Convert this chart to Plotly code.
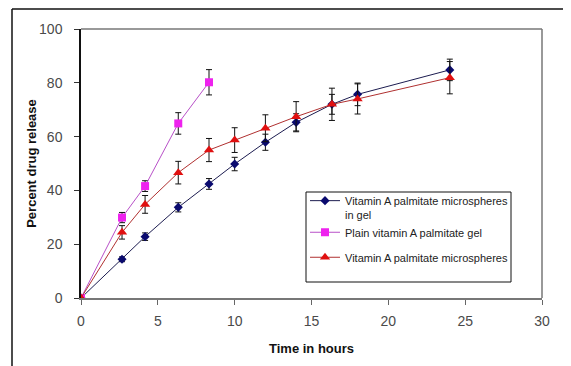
import plotly.graph_objects as go

# time points (hours)
t_gel = [0, 2.67, 4.17, 6.33, 8.33, 10, 12, 14, 16.33, 18, 24]
t_plain = [0, 2.67, 4.17, 6.33, 8.33]
t_micro = [0, 2.67, 4.17, 6.33, 8.33, 10, 12, 14, 16.33, 18, 24]

# percent drug release
rel_gel = [0, 14.4, 22.8, 33.7, 42.4, 49.8, 57.9, 65.3, 72.0, 75.7, 84.8]
err_gel = [0, 0.9, 1.4, 1.7, 2.0, 2.5, 3.0, 3.2, 3.7, 4.2, 4.0]

rel_plain = [0, 29.9, 41.6, 64.9, 80.2]
err_plain = [0, 1.9, 2.0, 4.0, 4.7]

rel_micro = [0, 24.4, 34.8, 46.6, 55.0, 58.7, 63.1, 67.4, 72.0, 74.0, 81.9]
err_micro = [0, 2.5, 3.3, 4.2, 4.3, 4.6, 5.0, 5.6, 6.0, 5.6, 6.0]

names = ["Vitamin A palmitate microspheres<br>in gel",
         "Plain vitamin A palmitate gel",
         "Vitamin A palmitate microspheres"]

x_ticks = [0, 5, 10, 15, 20, 25, 30]
y_ticks = [0, 20, 40, 60, 80, 100]

fig = go.Figure()

def add(x, y, e, name, lcolor, mcolor, symbol, msize, group):
    fig.add_trace(go.Scatter(
        x=x, y=y, name=name, mode="lines+markers", legendgroup=group,
        line=dict(color=lcolor, width=1),
        marker=dict(color=mcolor, symbol=symbol, size=msize, line=dict(width=0)),
        error_y=dict(type="data", array=e, visible=True, color="#111111",
                     thickness=1, width=3),
    ))

add(t_gel, rel_gel, err_gel, names[0], "#1c1c50", "#0a0a6e", "diamond", 7, "a")
add(t_plain, rel_plain, err_plain, names[1], "#b850c8", "#ee22ee", "square", 8, "a")
add(t_micro, rel_micro, err_micro, names[2], "#b03030", "#e01010", "triangle-up", 9, "b")

# page body has an 8px default margin; the figure starts at (8, 8)
OFF = 8
W, H = 571 - OFF, 366 - OFF
L, R, T, B = 81 - OFF, 29, 29 - OFF, 68
pw, ph = W - L - R, H - T - B

def px_x(px):
    return (px - OFF - L) / pw

def px_y(py):
    return (H - B - (py - OFF)) / ph

fig.update_layout(
    width=W, height=H,
    margin=dict(l=L, r=R, t=T, b=B),
    paper_bgcolor="white", plot_bgcolor="white",
    font=dict(family="Liberation Sans, Arial, sans-serif", color="#333333"),
    showlegend=True,
    legend=dict(
        x=px_x(305), y=px_y(187), xanchor="left", yanchor="top",
        borderwidth=0, bgcolor="rgba(0,0,0,0)",
        font=dict(size=11, color="#222222"),
        traceorder="grouped", tracegroupgap=6,
        itemwidth=30, valign="top",
    ),
    xaxis=dict(
        range=[0, 30], tickvals=x_ticks, ticks="outside", ticklen=5,
        tickcolor="#666666", showline=True, linecolor="#777777", linewidth=1.5,
        mirror=False, showgrid=False, zeroline=False,
        tickfont=dict(size=14, color="#4a4a4a"), ticklabelstandoff=4,
        title=dict(text="<b>Time in hours</b>", font=dict(size=13, color="#111111"),
                   standoff=16),
    ),
    yaxis=dict(
        range=[0, 100], tickvals=y_ticks, ticks="outside", ticklen=5,
        tickcolor="#333333", showline=True, linecolor="#111111", linewidth=1.5,
        showgrid=False, zeroline=False,
        tickfont=dict(size=14, color="#4a4a4a"), ticklabelstandoff=9,
        title=dict(text="<b>Percent drug release</b>", font=dict(size=13, color="#111111"),
                   standoff=0),
    ),
    shapes=[
        # legend box
        dict(type="rect", xref="paper", yref="paper",
             x0=px_x(306), x1=px_x(511), y0=px_y(282), y1=px_y(192),
             line=dict(color="#111111", width=1), fillcolor="white", layer="above"),
        # plot-area top and right borders
        dict(type="line", xref="paper", yref="paper", x0=0, x1=1, y0=1, y1=1,
             line=dict(color="#777777", width=1.5)),
        dict(type="line", xref="paper", yref="paper", x0=1, x1=1, y0=0, y1=1,
             line=dict(color="#777777", width=1.5)),
        # outer frame (left and top)
        dict(type="line", xref="paper", yref="paper",
             x0=px_x(12), x1=px_x(12), y0=px_y(366), y1=px_y(9),
             line=dict(color="#111111", width=1.5)),
        dict(type="line", xref="paper", yref="paper",
             x0=px_x(12), x1=px_x(571), y0=px_y(9), y1=px_y(9),
             line=dict(color="#111111", width=1.5)),
    ],
)

fig.write_html("out.html")
